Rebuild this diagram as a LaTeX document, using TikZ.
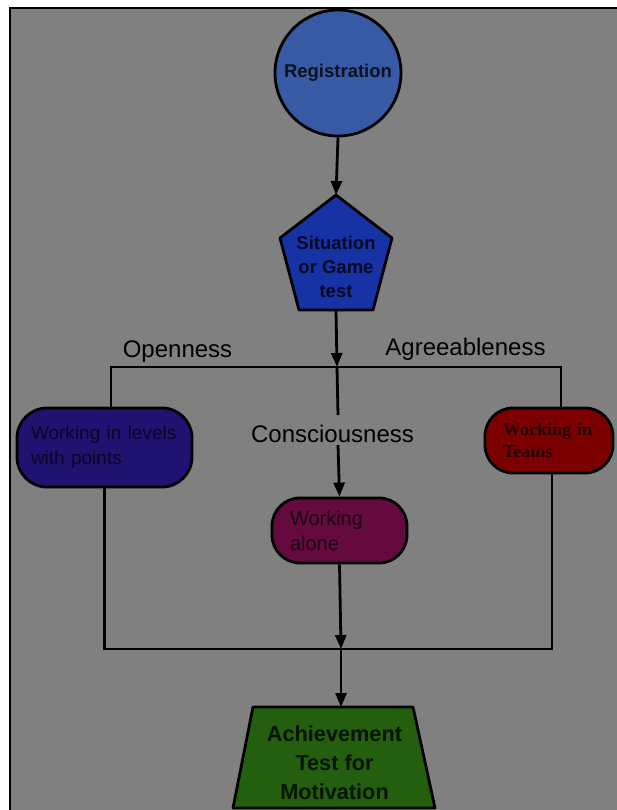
\documentclass[tikz,border=0pt]{standalone}
\usepackage{fontspec}
\setmainfont{Liberation Sans}
\newfontfamily\serifbox{Liberation Serif}
\usetikzlibrary{arrows.meta}
\definecolor{bggray}{RGB}{128,128,128}
\definecolor{regblue}{RGB}{56,90,165}
\definecolor{sitblue}{RGB}{22,50,165}
\definecolor{levblue}{RGB}{32,18,112}
\definecolor{alonemar}{RGB}{100,10,62}
\definecolor{teamred}{RGB}{125,0,0}
\definecolor{achgreen}{RGB}{35,95,15}
\begin{document}
\begin{tikzpicture}[x=1pt,y=-1pt,
  conn/.style={line width=2.8pt, draw=black},
  arr/.style={conn, -{Triangle[length=14pt,width=11pt]}},
  shapeline/.style={draw=black, line width=2.8pt},
  lbl/.style={font=\fontsize{24}{28}\selectfont, text=black, inner sep=0pt},
  roundbox/.style={shapeline, rounded corners=28pt, inner ysep=0pt, align=left}
]
\useasboundingbox (0,0) rectangle (617,810);
\fill[white] (0,0) rectangle (617,810);
\fill[bggray] (10,8) rectangle (617,810);
\draw[line width=1.5pt] (10,810) -- (10,8) -- (617,8);

% Registration
\node[circle, shapeline, fill=regblue, minimum size=126pt, inner sep=0pt,
      font=\bfseries\fontsize{18.5}{22}\selectfont, text=regblue!20!black] (reg) at (338,73) {Registration};

% Situation pentagon
\draw[shapeline, fill=sitblue, line join=round] (336,195) -- (392,238) -- (373,310) -- (299,310) -- (280,238) -- cycle;
\node[align=center, font=\bfseries\fontsize{18.5}{24}\selectfont, text=sitblue!20!black, inner sep=0pt] (sit) at (336,267) {Situation\\or Game\\test};
\coordinate (sittop) at (336,195);
\coordinate (sitbot) at (336,310);

% Labels
\node[lbl, anchor=base] (open) at (177.5,357) {Openness};
\node[lbl, anchor=base] (agree) at (465.5,355) {Agreeableness};
\node[lbl, anchor=base] (cons) at (332.5,442) {Consciousness};

% Boxes
\node[roundbox, fill=levblue, minimum width=175pt, minimum height=79pt, rounded corners=30pt,
      inner xsep=14pt, text width=147pt, font=\fontsize{19}{25}\selectfont, text=levblue!30!black] (lev) at (104.5,447.5) {Working in levels\\with points};
\node[roundbox, fill=teamred, minimum width=128pt, minimum height=65pt,
      inner xsep=18pt, text width=92pt, font=\serifbox\bfseries\fontsize{18}{22}\selectfont, text=teamred!30!black] (teams) at (549,440.5) {Working in\\Teams};
\node[roundbox, fill=alonemar, minimum width=135pt, minimum height=65pt,
      inner xsep=18pt, text width=99pt, font=\fontsize{20}{25}\selectfont, text=alonemar!30!black] (alone) at (339.5,530.5) {Working\\alone};

% Achievement trapezoid
\draw[shapeline, fill=achgreen, line join=round] (253,707) -- (413,707) -- (435,808) -- (233,808) -- cycle;
\node[align=center, font=\bfseries\fontsize{21.7}{29}\selectfont, text=achgreen!20!black, inner sep=0pt] (ach) at (334.5,762.5) {Achievement\\Test for\\Motivation};

% Connector coordinates
\coordinate (split) at (337,367);
\coordinate (ctop) at (338,415);
\coordinate (cbot) at (338,445);
\coordinate (merge) at (341,649);
\coordinate (achtop) at (341,707);

% Connectors
\draw[arr] (reg.south) -- (sittop);
\draw[arr] (sitbot) -- (split);
\draw[conn] ([xshift=6.5pt]lev.north) |- (split) -| ([xshift=12pt]teams.north);
\draw[conn] (split) -- (ctop);
\draw[arr] (cbot) -- (alone.north);
\draw[conn] (lev.south) |- (merge) -| ([xshift=3pt]teams.south);
\draw[arr] (alone.south) -- (merge);
\draw[arr] (merge) -- (achtop);
\end{tikzpicture}
\end{document}
